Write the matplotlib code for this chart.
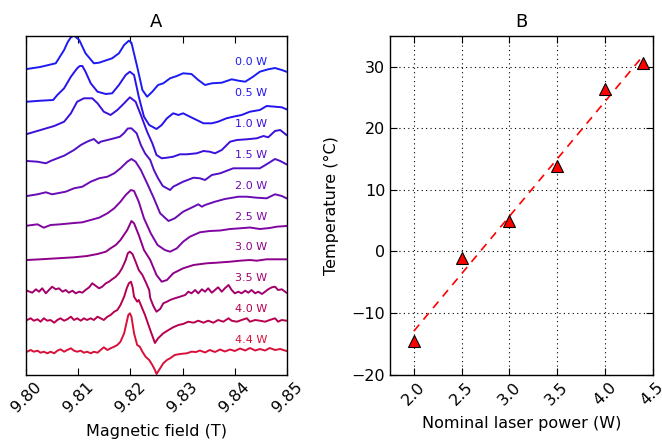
import matplotlib
matplotlib.use("Agg")
import matplotlib.pyplot as plt
import numpy as np

plt.rcParams.update({
    "font.family": "DejaVu Sans",
    "xtick.direction": "in",
    "ytick.direction": "in",
    "xtick.major.size": 5,
    "ytick.major.size": 5,
    "axes.linewidth": 1.0,
})

# ---------------- Panel A data (field in T, signal in arbitrary units) ----------------
power_labels = ["0.0 W", "0.5 W", "1.0 W", "1.5 W", "2.0 W",
                "2.5 W", "3.0 W", "3.5 W", "4.0 W", "4.4 W"]
trace_colors = ["#1c1cf2", "#2414ee", "#3c10dc", "#5210c6", "#6a0cb4",
                "#7e06a2", "#8e008a", "#a4006c", "#b8004e", "#d8103a"]
offsets = [306, 273, 241, 214, 179, 149, 115, 84, 55, 23]

field_00 = [9.8002, 9.8027, 9.8057, 9.8073, 9.8080, 9.8086, 9.8092, 9.8102, 9.8114, 9.8130,
            9.8140, 9.8165, 9.8178, 9.8188, 9.8197, 9.8202, 9.8213, 9.8223, 9.8232, 9.8242,
            9.8253, 9.8263, 9.8276, 9.8289, 9.8301, 9.8317, 9.8330, 9.8343, 9.8356, 9.8375,
            9.8394, 9.8407, 9.8420, 9.8435, 9.8448, 9.8464, 9.8477, 9.8490, 9.8499]
sig_00 = [0, 2, 5.7, 19, 27, 31.7, 33.5, 29, 15.7, 5.7,
          6.3, 10.7, 15.7, 24, 28.3, 26.3, 2.3, -21, -27.7, -22.7,
          -16, -14.3, -9.3, -7, -4.3, -5, -11, -16, -14.3, -13.7,
          -10.3, -11.7, -12.7, -7.7, -2.7, -0.3, 1, -1, -2.7]

field_05 = [9.8002, 9.8028, 9.8052, 9.8060, 9.8073, 9.8086, 9.8098, 9.8103, 9.8108, 9.8114,
            9.8124, 9.8137, 9.8153, 9.8165, 9.8178, 9.8191, 9.8199, 9.8207, 9.8216, 9.8226,
            9.8236, 9.8244, 9.8250, 9.8260, 9.8270, 9.8282, 9.8292, 9.8301, 9.8314, 9.8327,
            9.8340, 9.8356, 9.8368, 9.8384, 9.8397, 9.8413, 9.8429, 9.8448, 9.8461, 9.8477,
            9.8490, 9.8499]
sig_05 = [0.3, 1.3, 2, 7, 13.7, 25.3, 33.7, 36, 36, 30.3,
          18.7, 10.3, 8, 8.7, 17, 27, 30.3, 27, 5.3, -14.7,
          -23, -25.3, -27, -23, -16.3, -11.3, -13, -11.3, -14.7, -18,
          -21.3, -21.3, -19.7, -16.3, -14.7, -13, -9.7, -8, -4, -4.7,
          -5.3, -7.3]

field_10 = [9.8002, 9.8028, 9.8054, 9.8073, 9.8086, 9.8098, 9.8111, 9.8127, 9.8137, 9.8149,
            9.8162, 9.8175, 9.8188, 9.8199, 9.8210, 9.8220, 9.8232, 9.8242, 9.8250, 9.8260,
            9.8270, 9.8282, 9.8295, 9.8308, 9.8327, 9.8340, 9.8352, 9.8362, 9.8375, 9.8391,
            9.8404, 9.8423, 9.8442, 9.8455, 9.8464, 9.8477, 9.8487, 9.8499]
sig_10 = [0, 4, 8, 12.3, 20.7, 32.3, 35.7, 35.7, 30.7, 22.3,
          19, 24, 30.7, 36.7, 32.3, 19, 2.3, -9.3, -21, -24.3,
          -23.7, -22.7, -20.3, -20.3, -19.3, -17, -17.7, -19.3, -16, -7.7,
          -6, -5.3, -4.3, -2, -3.3, 3, 4, -1]

field_15 = [9.8002, 9.8022, 9.8038, 9.8047, 9.8060, 9.8073, 9.8092, 9.8105, 9.8117, 9.8130,
            9.8139, 9.8143, 9.8156, 9.8169, 9.8180, 9.8188, 9.8195, 9.8202, 9.8212, 9.8220,
            9.8228, 9.8238, 9.8245, 9.8253, 9.8262, 9.8270, 9.8276, 9.8282, 9.8301, 9.8321,
            9.8333, 9.8343, 9.8356, 9.8372, 9.8397, 9.8413, 9.8429, 9.8448, 9.8464, 9.8477,
            9.8487, 9.8499]
sig_15 = [0, -0.7, -2.3, 0, 2.7, 5.3, 11, 16, 19.3, 22,
          17.7, 19.3, 21, 22.7, 24.3, 28, 32.5, 32.7, 27.7, 16,
          7.7, 1, -9, -17.3, -25, -27.3, -29, -25.7, -20.7, -16.7,
          -17.3, -19, -14, -12.3, -7.3, -7.3, -7.3, -7.3, -2.3, 2,
          0, -3.3]

field_20 = [9.8002, 9.8022, 9.8038, 9.8050, 9.8060, 9.8076, 9.8092, 9.8108, 9.8124, 9.8140,
            9.8156, 9.8169, 9.8181, 9.8194, 9.8202, 9.8210, 9.8220, 9.8232, 9.8245, 9.8257,
            9.8273, 9.8285, 9.8301, 9.8321, 9.8330, 9.8337, 9.8343, 9.8362, 9.8381, 9.8407,
            9.8423, 9.8442, 9.8461, 9.8477, 9.8490, 9.8499]
sig_20 = [0, 1.7, 3.7, 1.7, 2.7, 4.3, 7.7, 9.3, 14.3, 17.7,
          19.3, 22.7, 27.7, 34.3, 37, 34.3, 26, 12.7, -2.3, -17.3,
          -25, -22.3, -15.7, -10.7, -8.3, -10.7, -9, -5.7, -3, -0.7,
          -0.7, -1.7, -2.3, 1.7, 0, -2.3]

field_25 = [9.8002, 9.8022, 9.8034, 9.8047, 9.8066, 9.8086, 9.8108, 9.8124, 9.8140, 9.8156,
            9.8169, 9.8181, 9.8191, 9.8201, 9.8207, 9.8216, 9.8226, 9.8239, 9.8252, 9.8266,
            9.8276, 9.8289, 9.8301, 9.8314, 9.8333, 9.8352, 9.8372, 9.8391, 9.8410, 9.8429,
            9.8448, 9.8467, 9.8480, 9.8499]
sig_25 = [0.3, 1.7, -1.7, 1, 1.7, 2.7, 3.7, 6, 8.3, 12.7,
          17.7, 24.3, 31, 36, 35, 24.3, 7.7, -7.3, -19, -24,
          -25.7, -22.3, -15.7, -10.7, -6.3, -5, -4.5, -3, -2.3, -1.5,
          -3, -2, -0.7, 0]

field_30 = [9.8002, 9.8028, 9.8060, 9.8092, 9.8117, 9.8137, 9.8153, 9.8162, 9.8172, 9.8181,
            9.8194, 9.8202, 9.8207, 9.8216, 9.8226, 9.8238, 9.8250, 9.8260, 9.8270, 9.8282,
            9.8301, 9.8321, 9.8346, 9.8365, 9.8391, 9.8410, 9.8429, 9.8442, 9.8461, 9.8480,
            9.8499]
sig_30 = [0, 0.7, 1.7, 2.7, 4, 6, 8.3, 11.7, 15, 20,
          30, 39, 36.7, 25, 10, 0, -15, -21.7, -20, -13.3,
          -8.3, -5, -3.3, -2.7, -1.7, -0.7, 0, -0.7, 0.7, 0.7,
          0.7]

field_35 = [9.8002, 9.8012, 9.8019, 9.8025, 9.8031, 9.8038, 9.8044, 9.8050, 9.8057, 9.8063,
            9.8070, 9.8076, 9.8082, 9.8089, 9.8095, 9.8102, 9.8108, 9.8114, 9.8121, 9.8127,
            9.8134, 9.8140, 9.8146, 9.8153, 9.8159, 9.8165, 9.8172, 9.8178, 9.8184, 9.8191,
            9.8195, 9.8199, 9.8204, 9.8210, 9.8216, 9.8223, 9.8229, 9.8236, 9.8238, 9.8244,
            9.8250, 9.8257, 9.8263, 9.8270, 9.8276, 9.8285, 9.8295, 9.8305, 9.8311, 9.8317,
            9.8324, 9.8330, 9.8337, 9.8343, 9.8349, 9.8356, 9.8362, 9.8368, 9.8375, 9.8381,
            9.8388, 9.8394, 9.8400, 9.8407, 9.8413, 9.8420, 9.8426, 9.8432, 9.8439, 9.8445,
            9.8452, 9.8458, 9.8464, 9.8471, 9.8477, 9.8483, 9.8490, 9.8499]
sig_35 = [0.3, -1.7, 1.7, -0.7, 2.7, -2.3, 1, 4.3, 1.7, 2.7,
          -0.7, 1, -1.7, 0.3, -2.3, -0.7, -1.7, 1, 3.7, 7.7,
          5, 2.7, 4.3, 7.7, 9.3, 11.7, 14.3, 17.7, 22.7, 31,
          37.7, 39.3, 37, 29.3, 21, 16, 9.3, 1, -7, -15,
          -20.7, -18, -12.3, -10.7, -9, -7.3, -5.7, -4, -0.7, -2.3,
          1, -2.3, 1.7, -0.7, 2.7, -1.7, 1, 3.7, -0.7, 2.7,
          6, 1, -2.3, -0.7, -2.3, 0.3, -1.7, 1, -2.3, -0.7,
          -3, -0.7, 1.7, 3.7, 4.3, 1, 1.7, -1.7]

field_40 = [9.8002, 9.8009, 9.8015, 9.8022, 9.8028, 9.8034, 9.8041, 9.8047, 9.8054, 9.8060,
            9.8066, 9.8073, 9.8079, 9.8086, 9.8092, 9.8098, 9.8105, 9.8111, 9.8117, 9.8124,
            9.8130, 9.8137, 9.8143, 9.8149, 9.8156, 9.8162, 9.8169, 9.8175, 9.8181, 9.8188,
            9.8193, 9.8197, 9.8201, 9.8204, 9.8207, 9.8213, 9.8216, 9.8220, 9.8228, 9.8238,
            9.8247, 9.8253, 9.8263, 9.8273, 9.8282, 9.8292, 9.8301, 9.8311, 9.8321, 9.8330,
            9.8340, 9.8349, 9.8359, 9.8368, 9.8378, 9.8388, 9.8394, 9.8404, 9.8413, 9.8423,
            9.8429, 9.8439, 9.8448, 9.8458, 9.8467, 9.8477, 9.8483, 9.8490, 9.8499]
sig_40 = [0, 1.7, -0.7, 0.7, -1.7, 1.7, -0.7, 0, -2.7, 0,
          1.7, -0.7, 0.7, 3.3, 0, 1.7, -0.7, 1.7, 0, 1.7,
          0, 3.3, 1.7, 0, 3.3, 5, 8.3, 10, 15, 23.3,
          31.7, 36.7, 38.3, 33.3, 23.3, 18.3, 20, 15, 5, -10,
          -23, -18.3, -13.3, -10, -7.3, -5, -4, -1.7, -2.7, -0.7,
          -2.7, -0.7, -2.7, 0, -1.7, 1.7, -0.7, -1.7, 0, 1.7,
          -1.7, 0, -0.7, -1.7, 0, 1.7, -1.7, 0, -0.7]

field_44 = [9.8002, 9.8009, 9.8015, 9.8022, 9.8028, 9.8034, 9.8041, 9.8047, 9.8054, 9.8060,
            9.8066, 9.8073, 9.8079, 9.8086, 9.8092, 9.8098, 9.8105, 9.8111, 9.8117, 9.8124,
            9.8130, 9.8137, 9.8143, 9.8149, 9.8156, 9.8162, 9.8169, 9.8175, 9.8181, 9.8188,
            9.8193, 9.8196, 9.8199, 9.8202, 9.8207, 9.8213, 9.8218, 9.8223, 9.8229, 9.8236,
            9.8242, 9.8247, 9.8250, 9.8257, 9.8263, 9.8270, 9.8276, 9.8285, 9.8295, 9.8308,
            9.8317, 9.8326, 9.8333, 9.8343, 9.8352, 9.8362, 9.8372, 9.8381, 9.8391, 9.8400,
            9.8410, 9.8420, 9.8429, 9.8439, 9.8448, 9.8458, 9.8467, 9.8477, 9.8487, 9.8499]
sig_44 = [0.3, 2, 0.3, 1.3, -0.7, 0.3, -1.3, 0.3, -1.3, 1.3,
          2.7, 0.3, 2, 3.7, 1.3, 0.3, 1.3, -0.7, 0.3, -1.3,
          0.3, -0.7, 2, 4.7, 2, 3.7, 5.3, 7, 10.3, 18.7,
          30.3, 37, 38.7, 35.3, 18.7, 7, 5.3, 0.3, -4.7, -8,
          -13, -18, -22, -16.3, -11.3, -8, -6.3, -3, -2, -1.3,
          0.3, 0, 1.5, -0.5, 2, 0, 2.5, 0.5, 2.5, 1,
          3.5, 1.5, 4, 1.5, 3, 1.5, 4, 2, 3, 1]

fields = [field_00, field_05, field_10, field_15, field_20,
          field_25, field_30, field_35, field_40, field_44]
signals = [sig_00, sig_05, sig_10, sig_15, sig_20,
           sig_25, sig_30, sig_35, sig_40, sig_44]

field_ticks = [9.80, 9.81, 9.82, 9.83, 9.84, 9.85]

# ---------------- Panel B data ----------------
laser_power = [2.0, 2.5, 3.0, 3.5, 4.0, 4.4]
temperature = [-14.5, -1.0, 5.0, 13.8, 26.3, 30.5]
power_ticks = [2.0, 2.5, 3.0, 3.5, 4.0, 4.5]
temp_ticks = [-20, -10, 0, 10, 20, 30]

# ---------------- Figure ----------------
fig = plt.figure(figsize=(6.62, 4.40), dpi=100)
bottom = (440 - 374.7) / 440
height = 339 / 440
axA = fig.add_axes([26 / 662, bottom, 261 / 662, height])
axB = fig.add_axes([390 / 662, bottom, 262.5 / 662, height])

for i, (f, s) in enumerate(zip(fields, signals)):
    axA.plot(f, offsets[i] + np.asarray(s), color=trace_colors[i], lw=1.4)
    axA.text(9.8400, 312.7 - 30.85 * i, power_labels[i], color=trace_colors[i],
             fontsize=8, ha="left", va="center")

axA.set_xlim(9.80, 9.85)
axA.set_ylim(0.3, 339.3)
axA.set_yticks([])
axA.set_xticks(field_ticks)
axA.set_xticklabels([f"{v:.2f}" for v in field_ticks], rotation=45, fontsize=11.5)
axA.tick_params(axis="x", top=True, bottom=True)
axA.set_xlabel("Magnetic field (T)", fontsize=11.5, labelpad=6)
axA.set_title("A", fontsize=13)

axB.plot(laser_power, temperature, linestyle="none", marker="^", ms=8,
         mfc="red", mec="black", mew=0.8, zorder=3)
coef = np.polyfit(laser_power, temperature, 1)
xfit = np.array([laser_power[0], laser_power[-1]])
axB.plot(xfit, np.polyval(coef, xfit), color="red", lw=1.2, dashes=(5, 4), zorder=2)

axB.set_xlim(1.75, 4.5)
axB.set_ylim(-20, 35)
axB.set_xticks(power_ticks)
axB.set_xticklabels([f"{v:.1f}" for v in power_ticks], rotation=45, fontsize=11.5)
axB.set_yticks(temp_ticks)
axB.set_yticklabels([f"{v}".replace("-", "\u2212") for v in temp_ticks], fontsize=11.5)
axB.tick_params(axis="both", top=True, right=True)
axB.grid(True, color="black", linestyle=(0, (1, 3)), linewidth=0.8)
axB.set_axisbelow(True)
axB.set_xlabel("Nominal laser power (W)", fontsize=11.5, labelpad=6)
axB.set_ylabel("Temperature (\u00b0C)", fontsize=11.5, labelpad=9)
axB.set_title("B", fontsize=13)

fig.savefig("out.png", dpi=100)
